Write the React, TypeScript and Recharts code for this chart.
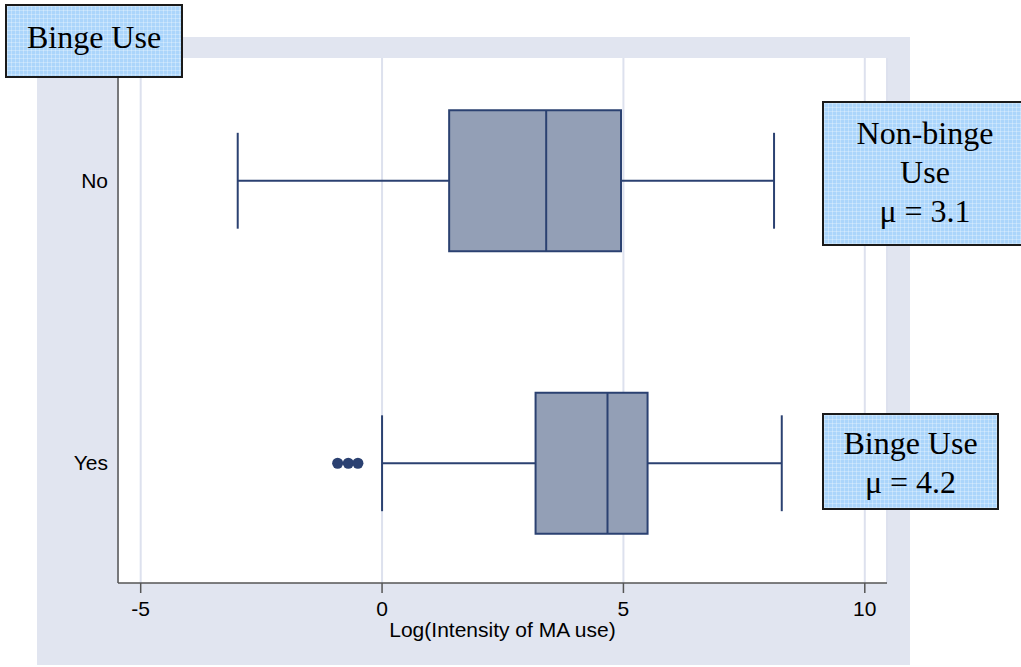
import React from 'react';
import { ComposedChart, Bar, XAxis, YAxis, CartesianGrid } from 'recharts';

// values (log intensity of MA use)
const groups = ['No', 'Yes'];
const whiskerLow = [-2.99, 0];
const q1 = [1.39, 3.18];
const median = [3.4, 4.67];
const q3 = [4.95, 5.5];
const whiskerHigh = [8.12, 8.28];
const outliers: number[][] = [[], [-0.92, -0.7, -0.5]];
const xTicks = [-5, 0, 5, 10];

const titleText = 'Binge Use';
const nonBingeNote = ['Non-binge', 'Use', 'μ = 3.1'];
const bingeNote = ['Binge Use', 'μ = 4.2'];

const data = groups.map((g, i) => ({
  group: g,
  range: [whiskerLow[i], whiskerHigh[i]],
  low: whiskerLow[i],
  high: whiskerHigh[i],
  q1: q1[i],
  median: median[i],
  q3: q3[i],
  outliers: outliers[i],
}));

const NAVY = '#2b4171';
const BOX_FILL = '#939fb6';
const SANS = '"Liberation Sans", Arial, sans-serif';

// draws one horizontal box plot inside the range bar the library laid out
const BoxShape = (props: any) => {
  const { x, y, width, height } = props;
  const d = props.payload ?? props;
  const left = Math.min(x, x + width);
  const w = Math.abs(width);
  const px = (v: number) => left + ((v - d.low) / (d.high - d.low)) * w;
  const cy = y + height / 2;
  const capHalf = height * 0.34;
  return (
    <g>
      <line x1={px(d.low)} x2={px(d.q1)} y1={cy} y2={cy} stroke={NAVY} strokeWidth={2} />
      <line x1={px(d.q3)} x2={px(d.high)} y1={cy} y2={cy} stroke={NAVY} strokeWidth={2} />
      <line x1={px(d.low)} x2={px(d.low)} y1={cy - capHalf} y2={cy + capHalf} stroke={NAVY} strokeWidth={2} />
      <line x1={px(d.high)} x2={px(d.high)} y1={cy - capHalf} y2={cy + capHalf} stroke={NAVY} strokeWidth={2} />
      <rect
        x={px(d.q1)}
        y={y}
        width={px(d.q3) - px(d.q1)}
        height={height}
        fill={BOX_FILL}
        stroke={NAVY}
        strokeWidth={2}
      />
      <line x1={px(d.median)} x2={px(d.median)} y1={y} y2={y + height} stroke={NAVY} strokeWidth={2} />
      {d.outliers.map((o: number, i: number) => (
        <circle key={i} cx={px(o)} cy={cy} r={5.5} fill={NAVY} />
      ))}
    </g>
  );
};

const noteStyle: React.CSSProperties = {
  position: 'absolute',
  boxSizing: 'border-box',
  border: '2px solid #1a1a1a',
  backgroundColor: '#abd5fb',
  backgroundImage:
    'linear-gradient(rgba(255,255,255,0.28) 1px, transparent 1px), linear-gradient(90deg, rgba(255,255,255,0.28) 1px, transparent 1px)',
  backgroundSize: '4px 4px',
  fontFamily: '"Liberation Serif", "Times New Roman", serif',
  fontSize: 32,
  color: '#000',
  textAlign: 'center',
  lineHeight: '39px',
};

export default function App() {
  return (
    <div style={{ position: 'absolute', left: 0, top: 0, width: 1021, height: 667, background: '#fff', overflow: 'hidden' }}>
      {/* lavender graph region */}
      <div style={{ position: 'absolute', left: 37, top: 37, width: 873, height: 628, background: '#e1e5f0' }} />
      <div style={{ position: 'absolute', left: 0, top: 0 }}>
        <ComposedChart
          width={1021}
          height={667}
          layout="vertical"
          data={data}
          margin={{ top: 58, right: 134, bottom: 24, left: 37 }}
        >
          <CartesianGrid horizontal={false} stroke="#dde1ee" strokeWidth={2} fill="#ffffff" />
          <XAxis
            type="number"
            domain={[-5.47, 10.46]}
            ticks={xTicks}
            allowDataOverflow
            height={60}
            stroke="#555"
            strokeWidth={1.5}
            tickSize={10}
            tickMargin={8}
            tick={{ fill: '#000', fontSize: 21, fontFamily: SANS }}
            label={{
              value: 'Log(Intensity of MA use)',
              position: 'insideBottom',
              offset: 6,
              fill: '#000',
              fontSize: 21,
              fontFamily: SANS,
            }}
          />
          <YAxis
            type="category"
            dataKey="group"
            width={81}
            padding={{ top: -18.75, bottom: -21.25 }}
            stroke="#555"
            strokeWidth={1.5}
            tickLine={false}
            tickMargin={4}
            tick={{ fill: '#000', fontSize: 21, fontFamily: SANS }}
          />
          <Bar dataKey="range" barSize={141} shape={BoxShape} isAnimationActive={false} />
        </ComposedChart>
      </div>
      <div style={{ ...noteStyle, left: 5, top: 4, width: 178, height: 74, lineHeight: '62px' }}>{titleText}</div>
      <div style={{ ...noteStyle, left: 822, top: 101, width: 206, height: 145, paddingTop: 11 }}>
        {nonBingeNote.map((t) => (
          <div key={t}>{t}</div>
        ))}
      </div>
      <div style={{ ...noteStyle, left: 822, top: 413, width: 177, height: 97, paddingTop: 9 }}>
        {bingeNote.map((t) => (
          <div key={t}>{t}</div>
        ))}
      </div>
    </div>
  );
}
